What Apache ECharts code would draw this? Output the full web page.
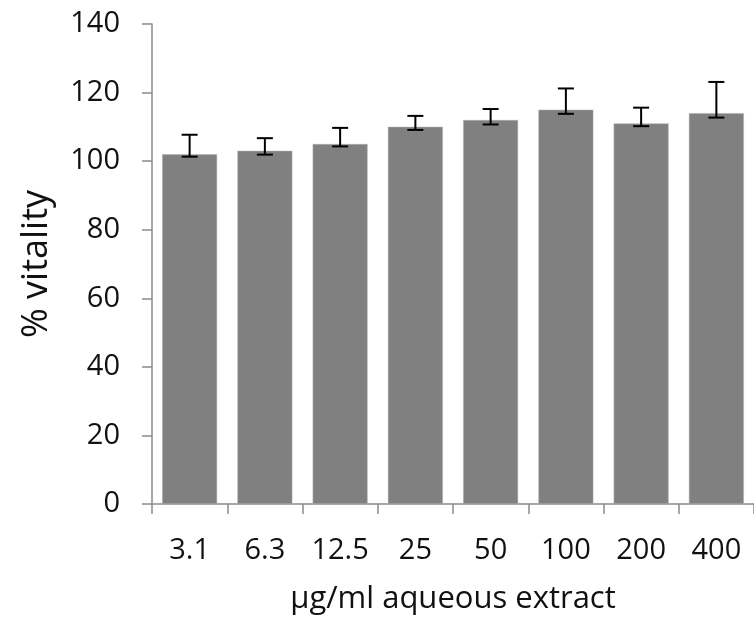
<!DOCTYPE html>
<html>
<head>
<meta charset="utf-8">
<script src="https://cdn.jsdelivr.net/npm/echarts@6/dist/echarts.min.js"></script>
<style>
  html, body { margin: 0; padding: 0; background: #fff; }
  #chart { width: 754px; height: 623px; }
</style>
</head>
<body>
<div id="chart"></div>
<script>
const categories = ['3.1', '6.3', '12.5', '25', '50', '100', '200', '400']
const vitality = [102, 103, 105, 110, 112, 115, 111, 114]
const errorLow = [101.3, 101.9, 104.3, 109.1, 110.7, 113.8, 110.2, 112.7]
const errorHigh = [107.7, 106.7, 109.7, 113.2, 115.2, 121.2, 115.6, 123.1]
const yTicks = [0, 20, 40, 60, 80, 100, 120, 140]

const font = 'Open Sans'
const chart = echarts.init(document.getElementById('chart'))

chart.setOption({
  animation: false,
  grid: { left: 152, top: 24, width: 606, bottom: 119, containLabel: false },
  xAxis: {
    type: 'category',
    data: categories,
    name: 'μg/ml aqueous extract',
    nameLocation: 'middle',
    nameGap: 80,
    nameTextStyle: { fontFamily: font, fontSize: 31, color: '#111' },
    axisLine: { lineStyle: { color: '#8a8a8a', width: 1.5 } },
    axisTick: { show: true, length: 10, alignWithLabel: false, lineStyle: { color: '#8a8a8a', width: 1.5 } },
    axisLabel: { fontFamily: font, fontSize: 29, color: '#111', margin: 32 }
  },
  yAxis: {
    type: 'value',
    min: yTicks[0],
    max: yTicks[yTicks.length - 1],
    interval: 20,
    name: '% vitality',
    nameLocation: 'middle',
    nameGap: 97,
    nameTextStyle: { fontFamily: font, fontSize: 36, color: '#111' },
    axisLine: { show: true, lineStyle: { color: '#8a8a8a', width: 1.5 } },
    axisTick: { show: true, length: 10, lineStyle: { color: '#8a8a8a', width: 1.5 } },
    axisLabel: { fontFamily: font, fontSize: 29, color: '#111', margin: 32 },
    splitLine: { show: false }
  },
  series: [
    {
      type: 'bar',
      data: vitality,
      barCategoryGap: '27%',
      itemStyle: { color: '#808080', borderColor: '#b0b0b0', borderWidth: 0.5 }
    },
    {
      type: 'custom',
      data: categories.map((c, i) => [i, errorLow[i], errorHigh[i]]),
      z: 5,
      renderItem: (params, api) => {
        const lo = api.coord([api.value(0), api.value(1)])
        const hi = api.coord([api.value(0), api.value(2)])
        const half = 8
        const style = { stroke: '#000', lineWidth: 2 }
        return {
          type: 'group',
          children: [
            { type: 'line', shape: { x1: hi[0], y1: hi[1], x2: lo[0], y2: lo[1] }, style },
            { type: 'line', shape: { x1: hi[0] - half, y1: hi[1], x2: hi[0] + half, y2: hi[1] }, style },
            { type: 'line', shape: { x1: lo[0] - half, y1: lo[1], x2: lo[0] + half, y2: lo[1] }, style }
          ]
        }
      }
    }
  ]
})
</script>
</body>
</html>
